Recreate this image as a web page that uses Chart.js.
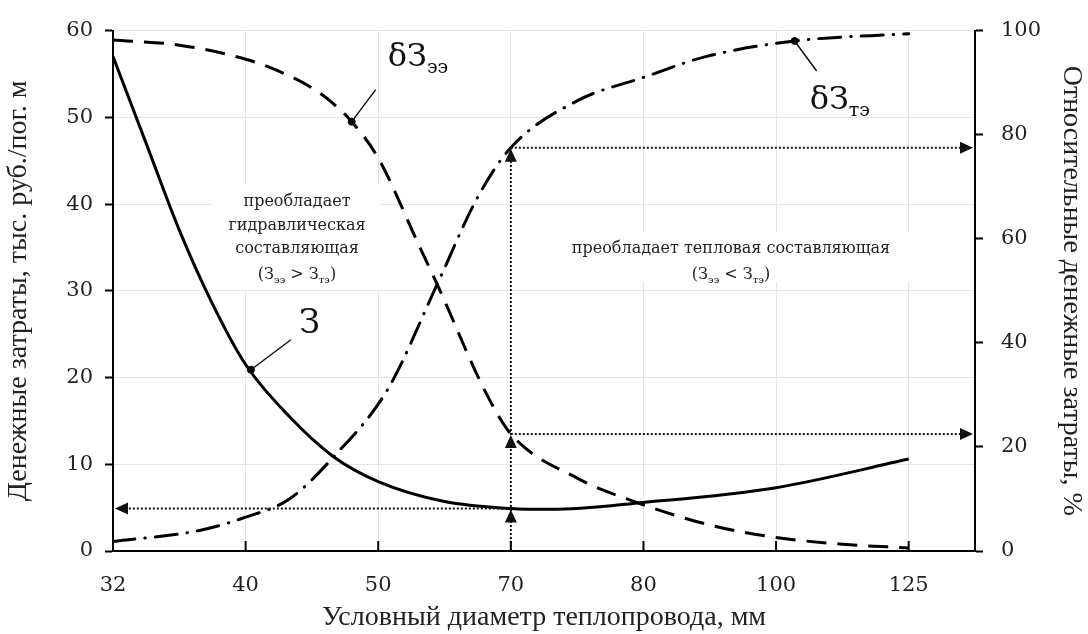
<!DOCTYPE html>
<html>
<head>
<meta charset="utf-8">
<script src="https://cdn.jsdelivr.net/npm/chart.js@4.4.0/dist/chart.umd.min.js"></script>
<style>
  html, body { margin: 0; padding: 0; background: #fff; }
  #wrap { width: 1088px; height: 634px; }
</style>
</head>
<body>
<div id="wrap"><canvas id="grafikZatraty"></canvas></div>
<script>
// условные диаметры теплопровода (категории оси X)
var diametry = ['32', '40', '50', '70', '80', '100', '125'];

// З, тыс. руб./пог. м (x - позиция в категориях)
var zX = [0, 0.25, 0.5, 0.75, 1, 1.33, 1.66, 2, 2.5, 3, 3.3, 4, 5, 6];
var zY = [57, 47, 37, 28.5, 21.5, 15.5, 10.9, 8, 5.7, 4.9, 4.8, 5.6, 7.3, 10.6];

// δЗээ, %
var eeX = [0, 0.5, 1, 1.25, 1.5, 1.65, 1.8, 2, 2.32, 2.44, 2.82, 3, 3.5, 3.92, 4.5, 5, 5.5, 6];
var eeY = [98.2, 97.2, 94.5, 92.2, 89, 86.2, 82.5, 75.5, 58, 51.5, 30, 22.5, 14, 9.6, 5, 2.6, 1.3, 0.6];

// δЗтэ, %
var teX = [0, 0.66, 1, 1.33, 1.66, 2.07, 2.44, 2.75, 3, 3.5, 4, 4.47, 5.14, 6];
var teY = [1.8, 4, 6.5, 10, 18, 31, 51, 68, 77.5, 86.5, 91, 95, 98, 99.4];

// точки-выноски для подписей кривых
var metkaZ = [{x: 1.04, y: 20.9}];
var metkaEE = [{x: 1.8, y: 82.5}];
var metkaTE = [{x: 5.14, y: 98}];

var ISKOMYJ = 3; // индекс Ду 70

var serif = 'DejaVu Serif';
var serif2 = 'Liberation Serif';

var tochki = function(xs, ys) {
  return xs.map(function(x, i) { return {x: x, y: ys[i]}; });
};

// текст с подстрочными индексами
var risujTekst = function(ctx, chasti, cx, cy, razmer, align) {
  var malyj = Math.round(razmer * 0.6);
  var shirina = 0;
  chasti.forEach(function(c) {
    ctx.font = (c.sub ? malyj : razmer) + 'px "' + serif + '"';
    c.w = ctx.measureText(c.t).width;
    shirina += c.w;
  });
  var x = align === 'left' ? cx : cx - shirina / 2;
  ctx.textAlign = 'left';
  ctx.textBaseline = 'alphabetic';
  chasti.forEach(function(c) {
    ctx.font = (c.sub ? malyj : razmer) + 'px "' + serif + '"';
    ctx.fillText(c.t, x, c.sub ? cy + razmer * 0.22 : cy);
    x += c.w;
  });
};

var strelka = function(ctx, x, y, napr) {
  var d = 13, h = 6;
  ctx.beginPath();
  if (napr === 'up') { ctx.moveTo(x, y); ctx.lineTo(x - h, y + d); ctx.lineTo(x + h, y + d); }
  if (napr === 'left') { ctx.moveTo(x, y); ctx.lineTo(x + d, y - h); ctx.lineTo(x + d, y + h); }
  if (napr === 'right') { ctx.moveTo(x, y); ctx.lineTo(x - d, y - h); ctx.lineTo(x - d, y + h); }
  ctx.closePath();
  ctx.fill();
};

var vnutrennieTiki = {
  id: 'vnutrennieTiki',
  afterDraw: function(chart) {
    var ctx = chart.ctx, sx = chart.scales.x, niz = chart.chartArea.bottom;
    ctx.save();
    ctx.strokeStyle = '#000';
    ctx.lineWidth = 2;
    for (var i = 1; i < diametry.length; i++) {
      var px = sx.getPixelForValue(i);
      ctx.beginPath();
      ctx.moveTo(px, niz);
      ctx.lineTo(px, niz - 10);
      ctx.stroke();
    }
    ctx.restore();
  }
};

var nadpisi = {
  id: 'nadpisi',
  beforeDatasetsDraw: function(chart) {
    var ctx = chart.ctx;
    ctx.save();
    ctx.fillStyle = '#fff';
    ctx.fillRect(212, 184, 168, 106);
    ctx.fillRect(545, 232, 372, 50);
    ctx.fillStyle = '#222';
    ctx.font = '16px "' + serif + '"';
    ctx.textAlign = 'center';
    ctx.textBaseline = 'middle';
    ctx.fillText('преобладает', 297, 202);
    ctx.fillText('гидравлическая', 297, 226);
    ctx.fillText('составляющая', 297, 249);
    risujTekst(ctx, [{t: '(З'}, {t: 'ээ', sub: true}, {t: ' > З'}, {t: 'тэ', sub: true}, {t: ')'}], 297, 279, 16);
    ctx.font = '16px "' + serif + '"';
    ctx.textAlign = 'center';
    ctx.textBaseline = 'middle';
    ctx.fillText('преобладает тепловая составляющая', 731, 249);
    risujTekst(ctx, [{t: '(З'}, {t: 'ээ', sub: true}, {t: ' < З'}, {t: 'тэ', sub: true}, {t: ')'}], 731, 279, 16);
    ctx.restore();
  },
  afterDatasetsDraw: function(chart) {
    var ctx = chart.ctx, sx = chart.scales.x, sy = chart.scales.y, sy2 = chart.scales.y2;
    var ca = chart.chartArea;
    ctx.save();
    ctx.fillStyle = '#111';
    ctx.strokeStyle = '#111';

    // выноски
    var mz = {x: sx.getPixelForValue(metkaZ[0].x), y: sy.getPixelForValue(metkaZ[0].y)};
    var me = {x: sx.getPixelForValue(metkaEE[0].x), y: sy2.getPixelForValue(metkaEE[0].y)};
    var mt = {x: sx.getPixelForValue(metkaTE[0].x), y: sy2.getPixelForValue(metkaTE[0].y)};
    ctx.lineWidth = 1.5;
    ctx.beginPath();
    ctx.moveTo(mz.x, mz.y); ctx.lineTo(mz.x + 40, mz.y - 30);
    ctx.moveTo(me.x, me.y); ctx.lineTo(me.x + 24, me.y - 32);
    ctx.moveTo(mt.x, mt.y); ctx.lineTo(mt.x + 22, mt.y + 30);
    ctx.stroke();
    risujTekst(ctx, [{t: 'З'}], mz.x + 48, mz.y - 37, 34, 'left');
    risujTekst(ctx, [{t: 'δЗ'}, {t: 'ээ', sub: true}], me.x + 36, me.y - 56, 32, 'left');
    risujTekst(ctx, [{t: 'δЗ'}, {t: 'тэ', sub: true}], mt.x + 15, mt.y + 68, 32, 'left');

    // пунктирные стрелки для Ду 70
    var x70 = sx.getPixelForValue(ISKOMYJ);
    var yZ = sy.getPixelForValue(zY[zX.indexOf(ISKOMYJ)]);
    var yEE = sy2.getPixelForValue(eeY[eeX.indexOf(ISKOMYJ)]);
    var yTE = sy2.getPixelForValue(teY[teX.indexOf(ISKOMYJ)]);
    ctx.lineWidth = 2;
    ctx.setLineDash([2, 2]);
    ctx.beginPath();
    ctx.moveTo(x70, ca.bottom); ctx.lineTo(x70, yTE + 6);
    ctx.moveTo(x70, yZ); ctx.lineTo(ca.left + 12, yZ);
    ctx.moveTo(x70, yEE); ctx.lineTo(ca.right - 12, yEE);
    ctx.moveTo(x70, yTE); ctx.lineTo(ca.right - 12, yTE);
    ctx.stroke();
    ctx.setLineDash([]);
    strelka(ctx, x70, yZ + 1, 'up');
    strelka(ctx, x70, yEE + 1, 'up');
    strelka(ctx, x70, yTE + 1, 'up');
    strelka(ctx, ca.left + 2, yZ, 'left');
    strelka(ctx, ca.right - 2, yEE, 'right');
    strelka(ctx, ca.right - 2, yTE, 'right');
    ctx.restore();
  }
};

var shriftOsi = {family: serif, size: 21};
var shriftZag = {family: serif2, size: 28};
var setka = '#e4e4e4';

new Chart(document.getElementById('grafikZatraty'), {
  type: 'line',
  data: {
    datasets: [
      {
        label: 'З', data: tochki(zX, zY), yAxisID: 'y',
        borderColor: '#000', borderWidth: 3, pointRadius: 0,
        cubicInterpolationMode: 'monotone'
      },
      {
        label: 'δЗээ', data: tochki(eeX, eeY), yAxisID: 'y2',
        borderColor: '#000', borderWidth: 3, pointRadius: 0,
        borderDash: [20, 11], cubicInterpolationMode: 'monotone'
      },
      {
        label: 'δЗтэ', data: tochki(teX, teY), yAxisID: 'y2',
        borderColor: '#000', borderWidth: 3, pointRadius: 0,
        borderDash: [22, 10, 0.5, 10], borderCapStyle: 'round',
        cubicInterpolationMode: 'monotone'
      },
      { data: metkaZ, yAxisID: 'y', showLine: false, pointRadius: 3.5, pointBackgroundColor: '#000', pointBorderColor: '#000' },
      { data: metkaEE, yAxisID: 'y2', showLine: false, pointRadius: 3.5, pointBackgroundColor: '#000', pointBorderColor: '#000' },
      { data: metkaTE, yAxisID: 'y2', showLine: false, pointRadius: 3.5, pointBackgroundColor: '#000', pointBorderColor: '#000' }
    ]
  },
  options: {
    responsive: true,
    maintainAspectRatio: false,
    animation: false,
    layout: { padding: { top: 22, left: 0, right: 0, bottom: 0 } },
    plugins: {
      legend: { display: false },
      tooltip: { enabled: false }
    },
    scales: {
      x: {
        type: 'linear', min: 0, max: 6.5,
        afterBuildTicks: function(axis) {
          axis.ticks = diametry.map(function(d, i) { return {value: i}; });
        },
        ticks: {
          callback: function(v) { return diametry[v]; },
          font: shriftOsi, color: '#222', padding: 22, maxRotation: 0, autoSkip: false
        },
        grid: { color: setka, drawTicks: false },
        border: { color: '#000', width: 2 },
        title: {
          display: true, text: 'Условный диаметр теплопровода, мм',
          font: shriftZag, color: '#222', padding: { top: 0, bottom: 0 }
        },
        afterFit: function(s) { s.height = 83; }
      },
      y: {
        position: 'left', min: 0, max: 60,
        ticks: { stepSize: 10, font: shriftOsi, color: '#222', padding: 12 },
        grid: { color: setka, tickColor: '#000', tickLength: 8, tickWidth: 2 },
        border: { color: '#000', width: 2 },
        title: {
          display: true, text: 'Денежные затраты, тыс. руб./пог. м',
          font: shriftZag, color: '#222', padding: { top: 2, bottom: 0 }
        },
        afterFit: function(s) { s.width = 113; }
      },
      y2: {
        position: 'right', min: 0, max: 100,
        ticks: { stepSize: 20, font: shriftOsi, color: '#222', padding: 18 },
        grid: { drawOnChartArea: false, tickColor: '#000', tickLength: 8, tickWidth: 2 },
        border: { color: '#000', width: 2 },
        title: {
          display: true, text: 'Относительные денежные затраты, %',
          font: shriftZag, color: '#222', padding: { top: 0, bottom: 0 }
        },
        afterFit: function(s) { s.width = 113; }
      }
    }
  },
  plugins: [vnutrennieTiki, nadpisi]
});
</script>
</body>
</html>
